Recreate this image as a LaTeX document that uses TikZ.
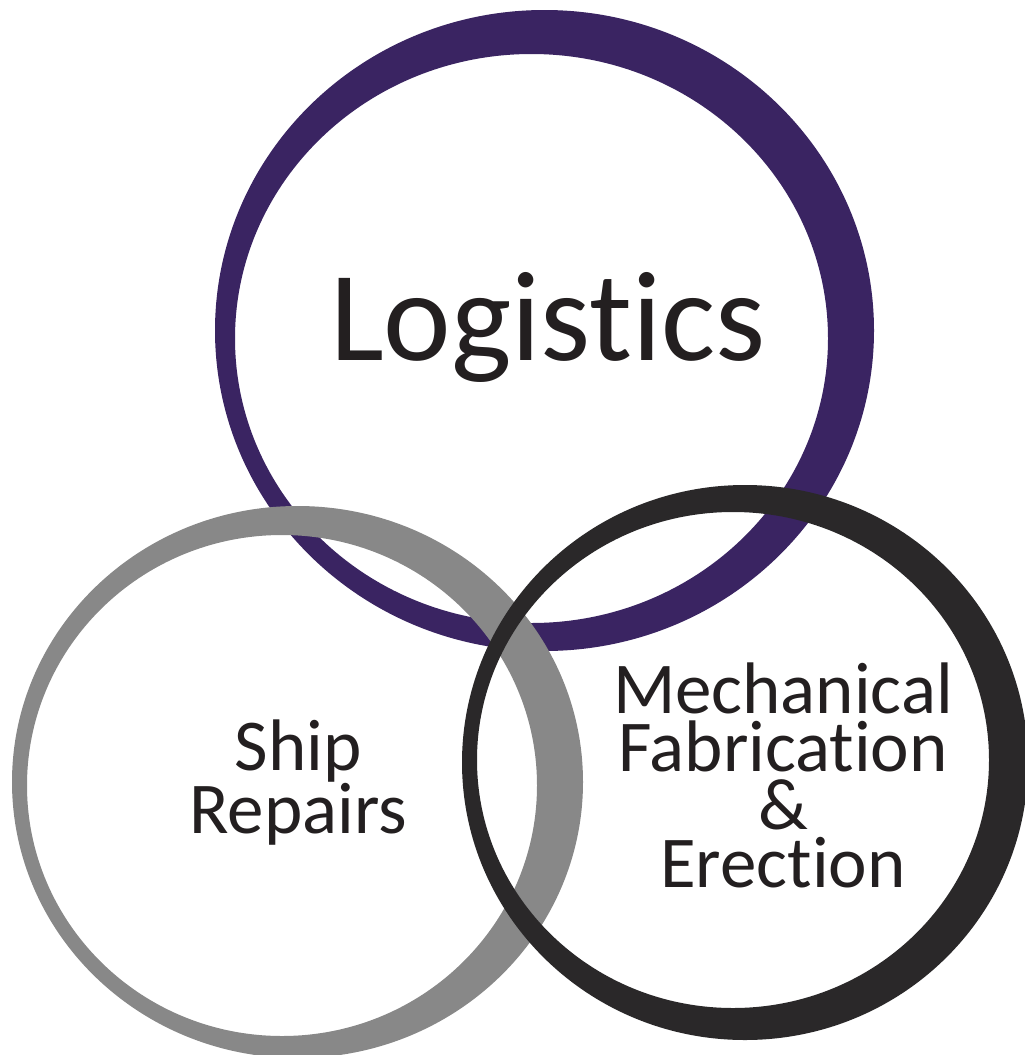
\documentclass[tikz,border=0pt]{standalone}
\usepackage{fontspec}
\setmainfont{Carlito}[Ligatures = {NoCommon, NoRequired, NoContextual}]
\definecolor{logpurple}{HTML}{3A2462}
\definecolor{shipgray}{HTML}{888888}
\definecolor{mechblack}{HTML}{2A2829}
\definecolor{textblack}{HTML}{231F20}
\tikzset{
    ring/.style = {even odd rule},
    label/.style = {text = textblack, align = center, inner sep = 0pt,
        font = \fontsize{73}{58}\selectfont}
}
\begin{document}
\begin{tikzpicture}[x = 1pt, y = -1pt]
        \useasboundingbox (0,0) rectangle (1025,1055);
        \fill [white] (0,0) rectangle (1025,1055);

        \fill [ring, logpurple] (544.5,330.5) ellipse [x radius = 329.5, y radius = 320.5]
            (531.5,338.5) ellipse [x radius = 296.5, y radius = 284.5];
        \fill [ring, shipgray] (297.5,782) ellipse [x radius = 285.5, y radius = 276]
            (282,785.5) ellipse [x radius = 255, y radius = 250.5];
        \fill [ring, mechblack] (745,762.5) ellipse [x radius = 283, y radius = 277.5]
            (733,760) ellipse [x radius = 256, y radius = 248];

        \node [label, font = \fontsize{128}{130}\selectfont, anchor = base]
            (logistics) at (548,360) {Logistics};
        \node [label] (ship) at (298,783) {Ship\\Repairs};
        \node [label] (mech) at (783,775) {Mechanical\\Fabrication\\\&\\Erection};
    \end{tikzpicture}
\end{document}
